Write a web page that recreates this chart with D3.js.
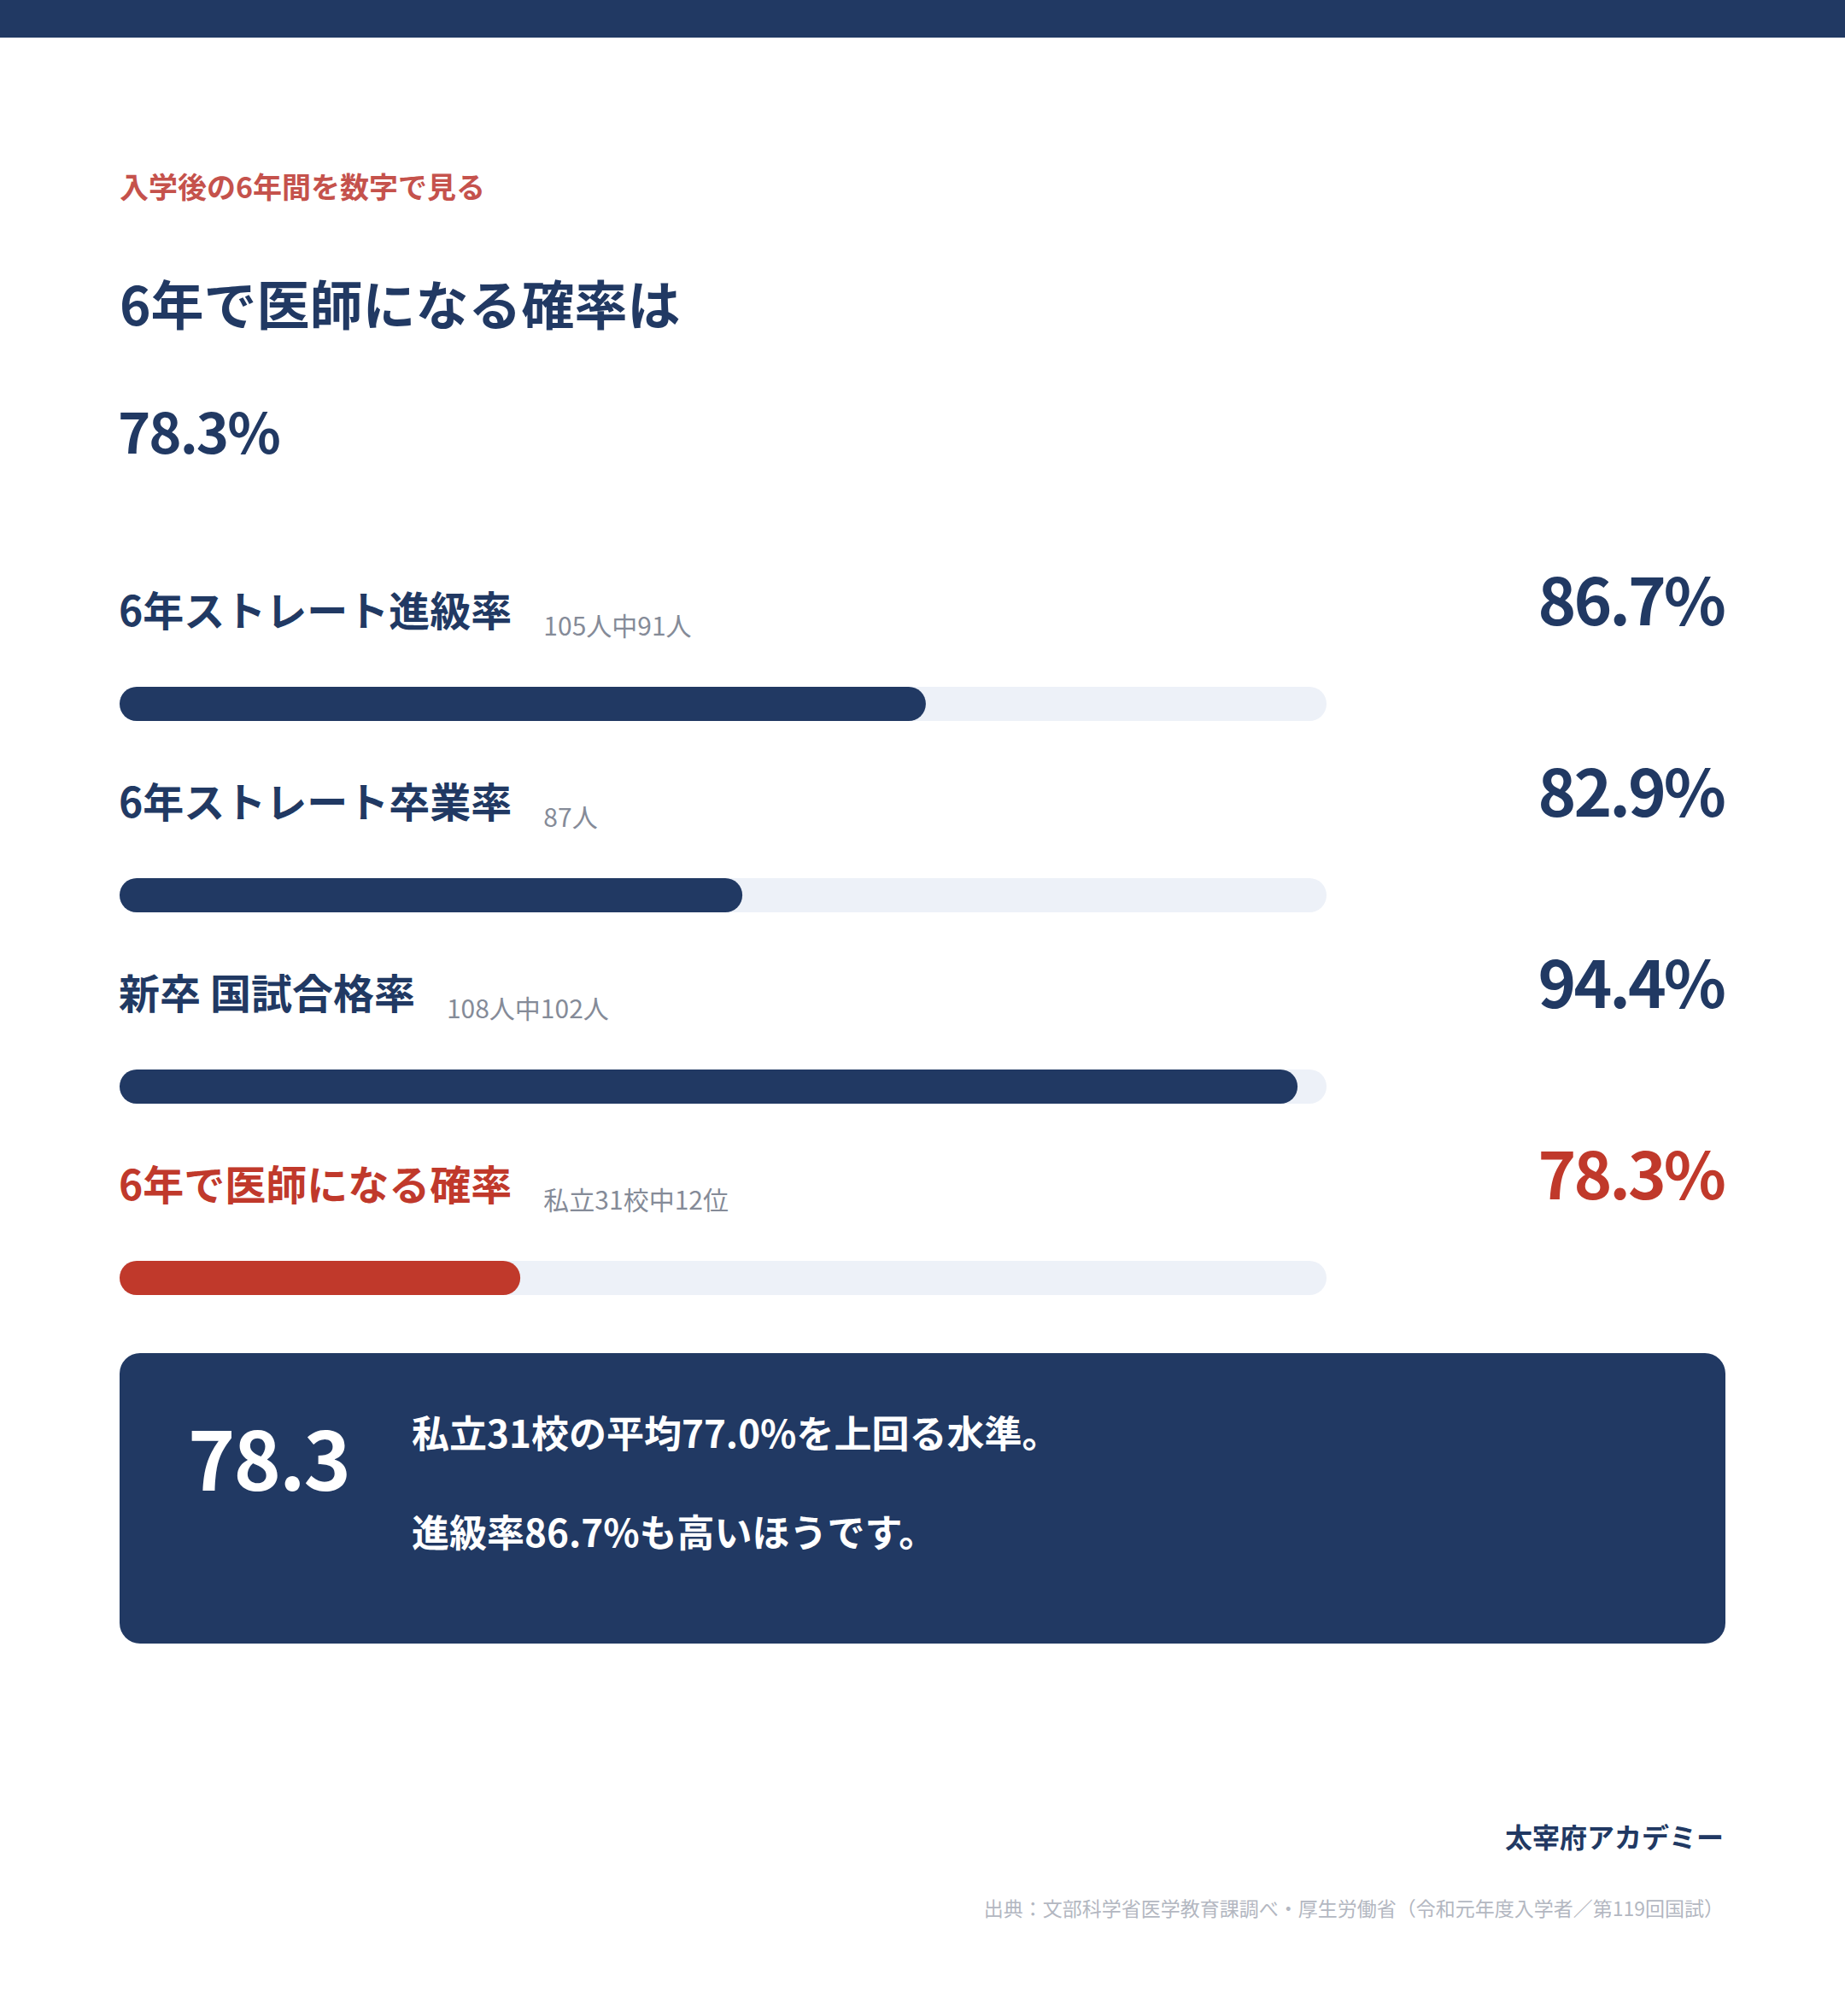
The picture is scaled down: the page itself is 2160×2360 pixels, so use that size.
<!DOCTYPE html>
<html lang="ja">
<head>
<meta charset="utf-8">
<script src="https://cdn.jsdelivr.net/npm/d3@7"></script>
<style>
  html, body { margin: 0; padding: 0; background: #fff; }
  svg { display: block; font-family: "Noto Sans CJK JP", "Noto Sans", sans-serif; }
</style>
</head>
<body>
<svg id="chart"></svg>
<script>
const labels = ["6年ストレート進級率", "6年ストレート卒業率", "新卒 国試合格率", "6年で医師になる確率"];
const values = [86.7, 82.9, 94.4, 78.3];
const notes = ["105人中91人", "87人", "108人中102人", "私立31校中12位"];
const highlighted = [false, false, false, true];
const scaleDomain = [70, 95];

const kicker = "入学後の6年間を数字で見る";
const title = "6年で医師になる確率は";
const headline = "78.3%";
const calloutNumber = "78.3";
const calloutLines = ["私立31校の平均77.0%を上回る水準。", "進級率86.7%も高いほうです。"];
const brand = "太宰府アカデミー";
const source = "出典：文部科学省医学教育課調べ・厚生労働省（令和元年度入学者／第119回国試）";

const width = 2160;
const height = 2360;
const navy = "#213963";
const red = "#c0392b";
const left = 140;
const right = 2018;
const trackW = 1413;
const trackH = 40;

const svg = d3.select("#chart")
    .attr("width", width)
    .attr("height", height);

// top band
svg.append("rect")
    .attr("x", 0).attr("y", 0)
    .attr("width", width).attr("height", 44)
    .attr("fill", navy);

svg.append("text")
    .attr("x", left).attr("y", 232)
    .attr("font-size", 34).attr("font-weight", 700)
    .attr("fill", "#c5524c")
    .text(kicker);

svg.append("text")
    .attr("x", left).attr("y", 381)
    .attr("font-size", 62).attr("font-weight", 700)
    .attr("fill", navy)
    .text(title);

svg.append("text")
    .attr("x", left - 2).attr("y", 531)
    .attr("font-size", 65).attr("font-weight", 700)
    .attr("letter-spacing", -2)
    .attr("fill", navy)
    .text(headline);

// rows
const x = d3.scaleLinear().domain(scaleDomain).range([0, trackW]);
const y = d3.scaleLinear().domain([0, labels.length - 1]).range([804, 1476]);

const rows = svg.append("g")
    .selectAll("g")
    .data(labels.map((label, i) => ({label, value: values[i], note: notes[i], hi: highlighted[i], i})))
    .join("g")
      .attr("transform", d => `translate(0,${y(d.i)})`);

rows.append("text")
    .attr("class", "label")
    .attr("x", left - 1).attr("y", -71)
    .attr("font-size", 48).attr("font-weight", 700)
    .attr("fill", d => d.hi ? red : navy)
    .text(d => d.label);

rows.append("text")
    .attr("x", function(d) {
      const w = this.parentNode.querySelector(".label").getComputedTextLength();
      return left + w + 36;
    })
    .attr("y", -60)
    .attr("font-size", 30)
    .attr("fill", "#858b98")
    .text(d => d.note);

rows.append("text")
    .attr("x", right).attr("y", -72)
    .attr("text-anchor", "end")
    .attr("font-size", 76).attr("font-weight", 700)
    .attr("letter-spacing", -3)
    .attr("fill", d => d.hi ? red : navy)
    .text(d => d.value.toFixed(1) + "%");

rows.append("rect")
    .attr("x", left).attr("y", 0)
    .attr("width", trackW).attr("height", trackH)
    .attr("rx", trackH / 2)
    .attr("fill", "#edf1f8");

rows.append("rect")
    .attr("x", left).attr("y", 0)
    .attr("width", d => x(d.value)).attr("height", trackH)
    .attr("rx", trackH / 2)
    .attr("fill", d => d.hi ? red : navy);

// callout box
const box = svg.append("g").attr("transform", "translate(140,1584)");
box.append("rect")
    .attr("width", 1880).attr("height", 340)
    .attr("rx", 24)
    .attr("fill", navy);

box.append("text")
    .attr("x", 80).attr("y", 161)
    .attr("font-size", 94).attr("font-weight", 700)
    .attr("letter-spacing", -2)
    .attr("fill", "#fff")
    .text(calloutNumber);

box.selectAll("text.line")
    .data(calloutLines)
    .join("text")
      .attr("class", "line")
      .attr("x", 342)
      .attr("y", (d, i) => 111 + i * 116)
      .attr("font-size", 44).attr("font-weight", 700)
      .attr("fill", "#fff")
      .text(d => d);

// footer
svg.append("text")
    .attr("x", right).attr("y", 2163)
    .attr("text-anchor", "end")
    .attr("font-size", 32).attr("font-weight", 700)
    .attr("fill", navy)
    .text(brand);

svg.append("text")
    .attr("x", right).attr("y", 2243)
    .attr("text-anchor", "end")
    .attr("font-size", 23)
    .attr("fill", "#b3b7c1")
    .text(source);
</script>
</body>
</html>
